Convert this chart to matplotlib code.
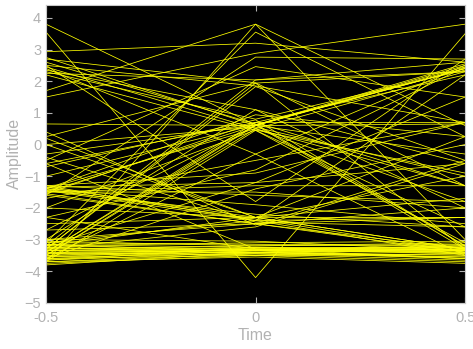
import numpy as np
import matplotlib.pyplot as plt

# Sample instants (one symbol period centred on 0)
t = [-0.5, 0.0, 0.5]

# Amplitude of each trace at t = -0.5, 0 and 0.5
start_vals = [
    3.80, 3.55, 2.93, 2.75, 2.70, 2.60, 2.50, 2.45, 2.40, 2.35, 2.30, 2.25, 2.20, 1.50,
    1.70, 2.50,
    0.65, 0.40, 0.25, 0.00, -0.30, -0.50, -0.60, -0.70,
    -1.00, -1.30, -1.35, -1.40, -1.40, -1.45, -1.50, -1.55, -1.50, -1.60,
    -1.70, -2.00, -2.00, -2.30, -2.30, -2.70, -2.70,
    -3.10, -3.20, -3.30, -3.40, -3.50, -3.60, -3.00, -3.20, -3.70, -3.10, -3.30, -3.70,
    -3.05, -3.15, -3.20, -3.25, -3.30, -3.35, -3.40, -3.45, -3.50, -3.55,
    -3.60, -3.65, -3.70, -3.75, -3.80, -3.30, -3.35, -3.25, -3.40, -3.10,
    -3.50, -3.45, -3.60, -3.20, -3.00, -3.70, -3.55, -3.35, -3.15, -3.65,
    -1.30, -1.35, -1.40, -1.45, -1.50, -1.55, -1.60, -1.30, 0.20, 0.00,
    -0.40, -0.60, -2.50, -3.20, -3.40, -3.00, -3.30, -3.60, -3.50, -1.40,
]
mid_vals = [
    0.62, -4.20, 3.20, 0.60, 1.95, 0.65, 1.85, 0.50, -0.30, 1.10, 0.80, 2.04, 0.45, 2.88,
    3.80, -1.80,
    0.60, -2.54, 1.94, -2.30, 0.62, 2.46, -3.30, 0.78,
    0.62, -1.60, -2.30, -1.90, 0.94, -2.40, 0.60, -2.50, -1.30, 2.76,
    -0.50, -2.30, 0.46, -0.80, -3.30, 0.60, -2.50,
    3.55, 2.04, 1.83, 0.62, 0.50, -0.30, 1.10, -1.20, 3.80, -2.40, -2.60, 0.45,
    -3.20, -3.25, -3.30, -3.35, -3.30, -3.40, -3.35, -3.30, -3.40, -3.45,
    -3.35, -3.40, -3.45, -3.50, -3.40, -3.20, -3.25, -3.45, -3.50, -3.15,
    -3.30, -3.40, -3.50, -3.10, -3.05, -3.55, -3.30, -3.35, -3.40, -3.25,
    -2.40, -1.20, 0.50, -2.20, -1.50, 0.70, -2.50, -0.90, -2.30, 0.55,
    -2.45, 0.70, -2.30, -2.30, 0.70, -2.50, 1.94, -1.40, 0.60, -2.35,
]
end_vals = [
    -3.30, 3.50, 2.60, 2.45, -1.30, -3.20, 0.70, -1.80, -3.50, -0.60, 2.35, 2.60, -2.60, 3.80,
    -3.00, 2.70,
    0.65, -0.50, 2.30, 0.25, 2.55, 1.50, -3.40, -3.20,
    2.40, -1.80, -3.30, -2.50, 0.25, -3.50, -0.30, -3.40, -1.30, 2.70,
    0.70, -2.30, -0.90, 2.45, -3.60, 2.50, -2.00,
    0.25, 2.30, -0.50, 2.40, -1.30, 2.50, -2.00, 1.50, 0.60, 2.20, -0.60, -3.10,
    -3.10, -3.30, -3.45, -3.20, -3.35, -3.50, -3.30, -3.25, -3.60, -3.40,
    -3.30, -3.55, -3.65, -3.70, -3.35, -3.15, -3.40, -3.55, -3.45, -3.20,
    -3.30, -3.35, -3.45, -3.05, -3.35, -3.75, -3.20, -3.60, -3.30, -3.25,
    -2.30, -0.60, 2.30, -2.60, -2.00, -1.30, -3.30, 0.70, -3.30, -1.00,
    -2.60, 2.20, -1.70, -1.00, 0.70, -2.30, -3.30, 0.00, 2.40, -3.40,
]

traces = np.array([start_vals, mid_vals, end_vals])

plt.rcParams['font.family'] = ['Liberation Sans', 'DejaVu Sans']
fig = plt.figure(figsize=(4.73, 3.49), dpi=100)
ax = fig.add_axes([0.0973, 0.132, 0.886, 0.855])
ax.set_facecolor('black')

ax.plot(t, traces, color='#ffff00', linewidth=0.55)

ax.set_xlim(-0.5, 0.5)
ax.set_ylim(-5, 4.42)
ax.set_xticks([-0.5, 0, 0.5])
ax.set_xticklabels(['-0.5', '0', '0.5'])
ax.set_yticks(range(-5, 5))

grey = '#b2b2b2'
for side in ax.spines.values():
    side.set_color('#c8c8c8')
ax.tick_params(direction='in', colors=grey, labelsize=10.5, length=4,
               top=True, right=True, labelcolor=grey)
ax.tick_params(axis='x', pad=6)
ax.set_xlabel('Time', color=grey, fontsize=11.5, labelpad=2)
ax.set_ylabel('Amplitude', color=grey, fontsize=11.5, labelpad=2)

fig.savefig('out.png', dpi=100)
